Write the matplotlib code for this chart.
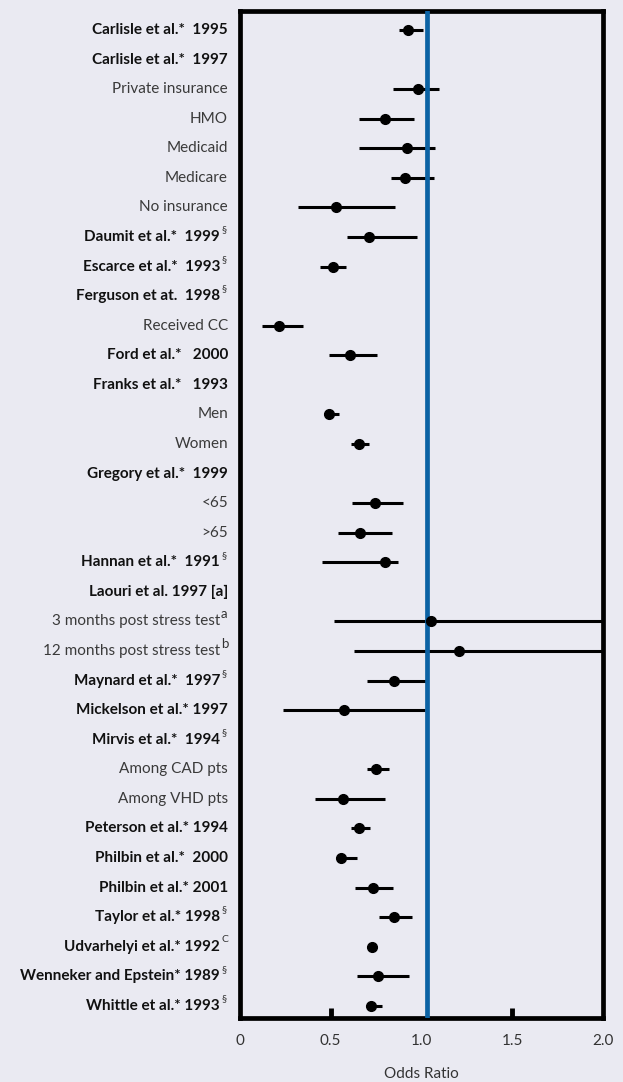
import numpy as np
import matplotlib.pyplot as plt
from matplotlib import transforms

plt.rcParams['font.family'] = ['Lato', 'DejaVu Sans']

# study / subgroup rows, top to bottom
labels = [
    'Carlisle et al.*  1995', 'Carlisle et al.*  1997', 'Private insurance', 'HMO',
    'Medicaid', 'Medicare', 'No insurance', 'Daumit et al.*  1999', 'Escarce et al.*  1993',
    'Ferguson et at.  1998', 'Received CC', 'Ford et al.*   2000', 'Franks et al.*   1993',
    'Men', 'Women', 'Gregory et al.*  1999', '<65', '>65', 'Hannan et al.*  1991',
    'Laouri et al. 1997 [a]', '3 months post stress test', '12 months post stress test',
    'Maynard et al.*  1997', 'Mickelson et al.* 1997', 'Mirvis et al.*  1994',
    'Among CAD pts', 'Among VHD pts', 'Peterson et al.* 1994', 'Philbin et al.*  2000',
    'Philbin et al.* 2001', 'Taylor et al.* 1998', 'Udvarhelyi et al.* 1992',
    'Wenneker and Epstein* 1989', 'Whittle et al.* 1993',
]
is_study = [1, 1, 0, 0, 0, 0, 0, 1, 1, 1, 0, 1, 1, 0, 0, 1, 0, 0, 1, 1, 0, 0,
            1, 1, 1, 0, 0, 1, 1, 1, 1, 1, 1, 1]
notes = ['', '', '', '', '', '', '', '§', '§', '§', '', '', '', '', '', '', '', '', '§',
         '', 'a', 'b', '§', '', '§', '', '', '', '', '', '§', 'C', '§', '§']

odds = [0.925, np.nan, 0.983, 0.800, 0.919, 0.910, 0.530, 0.712, 0.512, np.nan,
        0.218, 0.607, np.nan, 0.492, 0.657, np.nan, 0.747, 0.660, 0.800, np.nan,
        1.053, 1.209, 0.848, 0.574, np.nan, 0.752, 0.567, 0.657, 0.558, 0.732,
        0.851, 0.727, 0.760, 0.721]
ci_low = [0.879, np.nan, 0.846, 0.658, 0.655, 0.831, 0.321, 0.589, 0.442, np.nan,
          0.121, 0.493, np.nan, 0.466, 0.615, np.nan, 0.620, 0.543, 0.455, np.nan,
          0.521, 0.631, 0.699, 0.237, np.nan, 0.699, 0.413, 0.611, 0.534, 0.635,
          0.767, 0.727, 0.646, 0.699]
ci_high = [1.011, np.nan, 1.099, 0.958, 1.075, 1.071, 0.853, 0.976, 0.585, np.nan,
           0.347, 0.754, np.nan, 0.547, 0.712, np.nan, 0.897, 0.838, 0.870, np.nan,
           2.5, 2.5, 1.030, 1.020, np.nan, 0.820, 0.800, 0.716, 0.648, 0.846,
           0.949, 0.727, 0.932, 0.782]

xticks = [0, 0.5, 1.0, 1.5, 2.0]
xtick_labels = ['0', '0.5', '1.0', '1.5', '2.0']

bg = '#eaeaf2'
fig = plt.figure(figsize=(6.23, 10.82), dpi=100, facecolor=bg)
ax = fig.add_axes([0.3848, 0.0589, 0.5831, 0.9311], facecolor=bg)

y = np.arange(len(labels))
ax.hlines(y, ci_low, ci_high, color='black', lw=2.2, zorder=2)
ax.axvline(1.03, color='#0b62a4', lw=3.4, zorder=3)
ax.plot(odds, y, 'o', color='black', ms=7, zorder=4)

ax.set_xlim(0, 2)
ax.set_ylim(len(labels) - 0.58, -0.65)
ax.set_yticks([])
ax.set_xticks(xticks)
ax.set_xticklabels(xtick_labels)
ax.tick_params(axis='x', direction='in', length=7, width=3.5, pad=11,
               labelsize=11, labelcolor='#333333')
for val, t in zip(xticks, ax.xaxis.get_major_ticks()):
    if val not in (0.5, 1.5):
        t.tick1line.set_visible(False)
for s in ax.spines.values():
    s.set_linewidth(3.4)
    s.set_color('black')
ax.set_xlabel('Odds Ratio', fontsize=11, color='#333333', labelpad=14)

# row labels to the left of the frame
tr = transforms.blended_transform_factory(fig.transFigure, ax.transData)
for i, lab in enumerate(labels):
    weight = 'bold' if is_study[i] else 'normal'
    col = '#111111' if is_study[i] else '#3a3a3a'
    xr = 228 / 623 if notes[i] == '' else 220 / 623
    ax.text(xr, i, lab, transform=tr, ha='right', va='center', fontsize=11,
            fontweight=weight, color=col)
    if notes[i]:
        fs = 9.5 if notes[i] in ('a', 'b') else 7.5
        ax.text(221 / 623, i - 0.24, notes[i], transform=tr, ha='left', va='center',
                fontsize=fs, color='#333333')

fig.savefig('out.png', dpi=100, facecolor=bg)
